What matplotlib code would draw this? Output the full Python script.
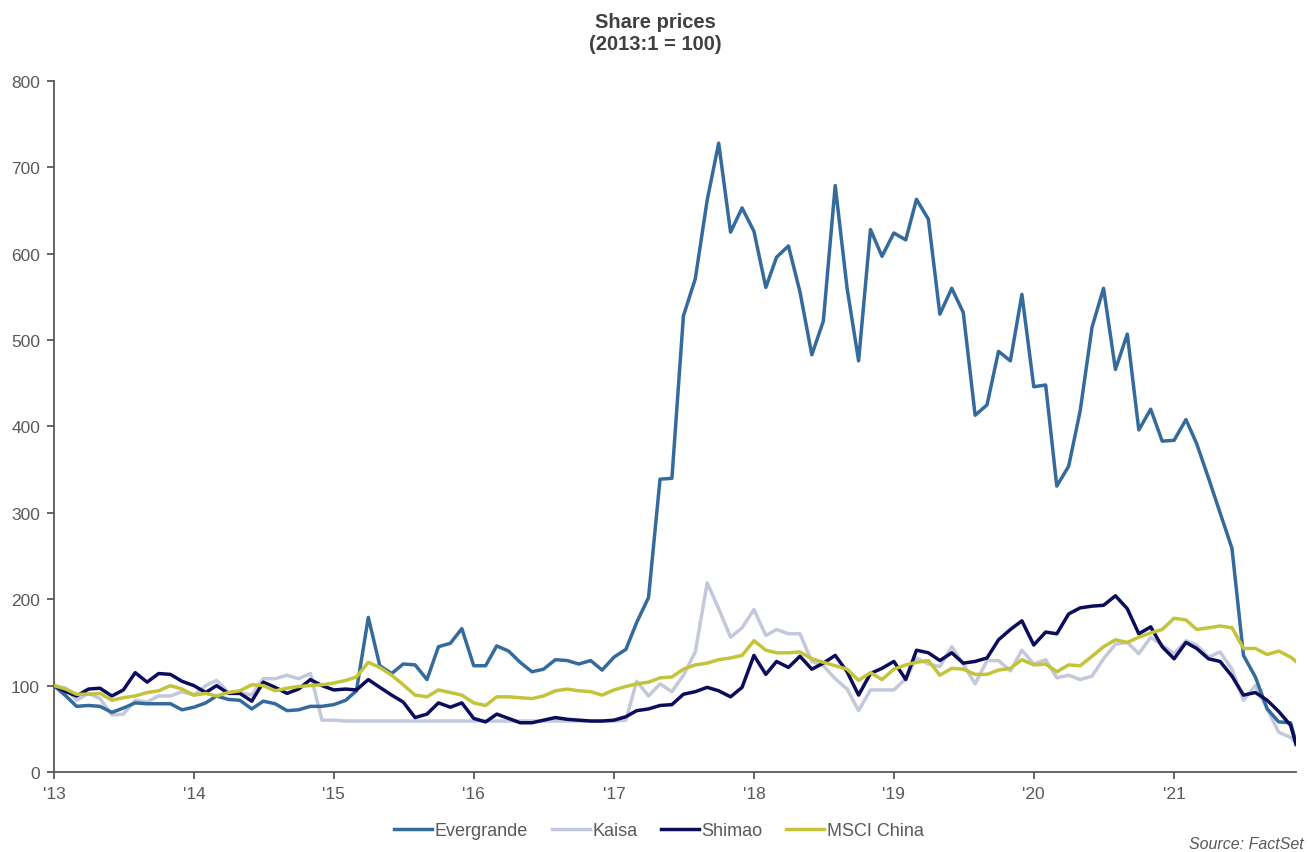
import numpy as np
import pandas as pd
import matplotlib
matplotlib.use('Agg')
import matplotlib.pyplot as plt
import matplotlib.dates as mdates

# Monthly share prices, 2013:1 = 100 (last entry is a mid-month reading)
dates = list(pd.date_range('2013-01-01', periods=107, freq='MS')) + [pd.Timestamp('2021-11-15')]

evergrande = [100, 88, 76, 77, 76, 69, 74, 80, 79, 79, 79, 72,
              75, 80, 88, 84, 83, 73, 82, 79, 71, 72, 76, 76,
              78, 83, 94, 179, 123, 114, 125, 124, 107, 145, 149, 166,
              123, 123, 146, 140, 127, 116, 119, 130, 129, 125, 129, 118,
              133, 142, 173, 202, 339, 340, 528, 571, 662, 728, 625, 653,
              626, 561, 596, 609, 556, 483, 522, 679, 560, 476, 628, 597,
              624, 616, 663, 640, 530, 560, 532, 413, 425, 487, 476, 553,
              446, 448, 331, 354, 418, 515, 560, 466, 507, 396, 420, 383,
              384, 408, 380, 340, 300, 259, 135, 110, 73, 58, 57, 34]

kaisa = [100, 97, 83, 91, 85, 66, 67, 83, 81, 88, 88, 93,
         89, 100, 106, 92, 92, 89, 108, 108, 112, 108, 114, 60,
         60, 59, 59, 59, 59, 59, 59, 59, 59, 59, 59, 59,
         59, 59, 59, 59, 59, 59, 59, 59, 59, 59, 59, 59,
         59, 60, 105, 88, 102, 93, 112, 139, 219, 189, 156, 167,
         188, 158, 165, 160, 160, 128, 123, 108, 96, 71, 95, 95,
         95, 108, 132, 125, 122, 145, 125, 102, 129, 129, 117, 141,
         125, 130, 109, 112, 107, 111, 131, 148, 150, 137, 156, 147,
         137, 152, 147, 133, 139, 119, 83, 100, 73, 46, 40, 34]

shimao = [100, 93, 88, 96, 97, 88, 95, 115, 104, 114, 113, 105,
          100, 92, 100, 91, 91, 82, 104, 98, 91, 96, 107, 100,
          95, 96, 95, 107, 98, 89, 81, 63, 67, 80, 75, 80,
          62, 58, 67, 62, 57, 57, 60, 63, 61, 60, 59, 59,
          60, 64, 71, 73, 77, 78, 90, 93, 98, 94, 87, 98,
          135, 113, 128, 121, 134, 119, 126, 135, 116, 89, 114, 120,
          128, 107, 141, 138, 129, 138, 126, 128, 132, 153, 165, 175,
          147, 162, 160, 183, 190, 192, 193, 204, 189, 160, 168, 145,
          131, 150, 143, 131, 128, 111, 89, 92, 83, 70, 54, 32]

msci = [100, 96, 90, 90, 91, 83, 86, 88, 92, 94, 100, 96,
        89, 91, 88, 92, 94, 101, 100, 94, 97, 99, 100, 101,
        103, 106, 110, 127, 121, 112, 101, 89, 87, 95, 92, 89,
        80, 77, 87, 87, 86, 85, 88, 94, 96, 94, 93, 89,
        95, 99, 102, 104, 109, 110, 119, 124, 126, 130, 132, 135,
        152, 141, 138, 138, 139, 131, 127, 123, 119, 106, 115, 107,
        119, 124, 127, 129, 112, 120, 119, 113, 113, 118, 120, 130,
        124, 125, 116, 124, 123, 134, 145, 153, 150, 156, 161, 165,
        178, 176, 165, 167, 169, 167, 143, 143, 136, 140, 133, 128]

grey = '#595959'
plt.rcParams['font.family'] = ['Liberation Sans', 'DejaVu Sans']

fig = plt.figure(figsize=(13.1, 8.53), dpi=100)
ax = fig.add_axes([0.0412, 0.0938, 0.9481, 0.8101])

l1, = ax.plot(dates, evergrande, color='#356b9c', lw=2.5, label='Evergrande', zorder=3)
l2, = ax.plot(dates, kaisa, color='#c4c8db', lw=2.5, label='Kaisa', zorder=2)
l3, = ax.plot(dates, shimao, color='#0c0c5c', lw=2.5, label='Shimao', zorder=4)
l4, = ax.plot(dates, msci, color='#c3c43a', lw=2.5, label='MSCI China', zorder=5)

ax.set_xlim(dates[0], dates[-1])
ax.set_ylim(0, 800)
ax.set_yticks(np.arange(0, 801, 100))
ax.xaxis.set_major_locator(mdates.YearLocator())
ax.xaxis.set_major_formatter(mdates.DateFormatter("'%y"))

for s in ['top', 'right']:
    ax.spines[s].set_visible(False)
for s in ['left', 'bottom']:
    ax.spines[s].set_color(grey)
    ax.spines[s].set_linewidth(1.3)
ax.tick_params(axis='both', direction='out', length=5, width=1.3, color=grey,
               labelcolor=grey, labelsize=12.5)
ax.tick_params(axis='y', pad=5)
ax.tick_params(axis='x', pad=5)

fig.text(0.5, 1 - 22 / 853, 'Share prices', ha='center', va='center',
         fontsize=14.5, weight='bold', color='#404040')
fig.text(0.5, 1 - 44 / 853, '(2013:1 = 100)', ha='center', va='center',
         fontsize=14.5, weight='bold', color='#404040')

fig.legend(handles=[l1, l2, l3, l4], loc='center', bbox_to_anchor=(0.503, 1 - 832 / 853),
           ncol=4, frameon=False, fontsize=13, handlelength=2.1, handletextpad=0.15,
           columnspacing=1.3, labelcolor=grey)

fig.text(0.995, 1 - 845 / 853, 'Source: FactSet', ha='right', va='center',
         fontsize=11.5, style='italic', color=grey)

fig.savefig('out.png', dpi=100)
